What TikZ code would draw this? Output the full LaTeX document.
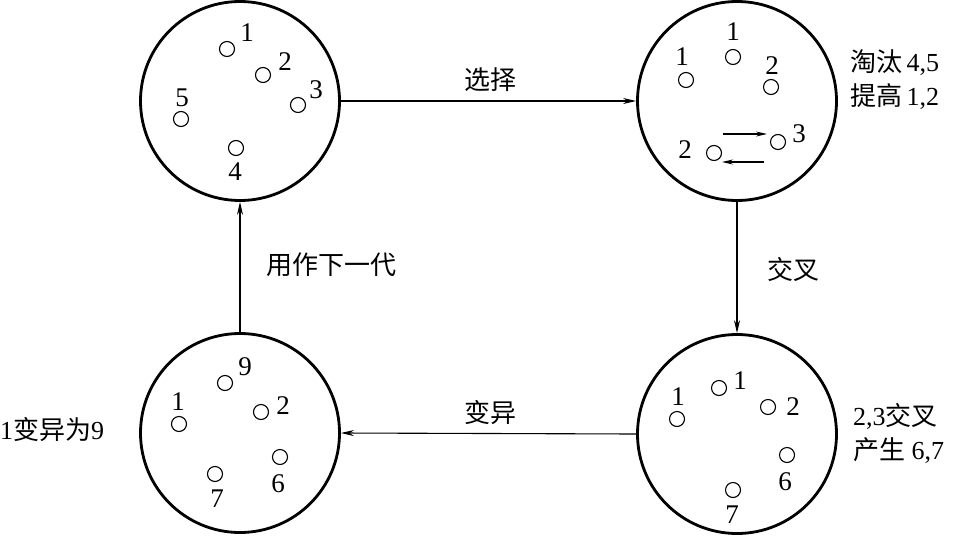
\documentclass[tikz,border=0pt]{standalone}
\usepackage{fontspec}
\setmainfont{Liberation Serif}
\newfontfamily\cjk{Noto Sans CJK SC}
\usetikzlibrary{arrows.meta}
\tikzset{
  big/.style={circle,draw,line width=2.8pt,minimum size=199pt,inner sep=0pt},
  ind/.style={circle,draw,line width=1.1pt,minimum size=15pt,inner sep=0pt},
  num/.style={font=\fontsize{27}{27}\selectfont,inner sep=0pt},
  lab/.style={font=\fontsize{26}{28}\selectfont\cjk,inner sep=0pt},
  side/.style={font=\fontsize{26}{34}\selectfont,inner sep=0pt,align=left},
  flow/.style={line width=1.1pt,-{Stealth[length=13pt,width=6pt]}},
  mini/.style={line width=1.1pt,-{Stealth[length=11pt,width=5pt]}}
}
\begin{document}
\begin{tikzpicture}[x=1pt,y=-1pt]
\useasboundingbox (0,0) rectangle (957,535);
% big circles
\node[big] (TL) at (240,101) {};
\node[big] (TR) at (737,101) {};
\node[big] (BR) at (737,434) {};
\node[big] (BL) at (240,433) {};
% flow arrows
\draw[flow] (TL.east) -- (TR.west);
\draw[flow] (TR.south) -- (BR.north);
\draw[flow] (BR.west) -- (BL.east);
\draw[flow] (BL.north) -- (TL.south);
\node[lab] (l1) at (490,80) {选择};
\node[lab] (l2) at (793,270) {交叉};
\node[lab] (l3) at (490,413) {变异};
\node[lab] (l4) at (331,265) {用作下一代};
% top-left individuals
\node[ind] (a1) at (227,49) {};  \node[num] (na1) at (247,33) {1};
\node[ind] (a2) at (263,75) {};  \node[num] (na2) at (285,62) {2};
\node[ind] (a3) at (298,105) {}; \node[num] (na3) at (316,90) {3};
\node[ind] (a5) at (181,119) {}; \node[num] (na5) at (182,98) {5};
\node[ind] (a4) at (236,148) {}; \node[num] (na4) at (235,172) {4};
% top-right individuals
\node[ind] (b1) at (733,57) {};  \node[num] (nb1) at (733,32) {1};
\node[ind] (b1b) at (686,80) {}; \node[num] (nb1b) at (682,57) {1};
\node[ind] (b2) at (771,87) {};  \node[num] (nb2) at (772,66) {2};
\node[ind] (b3) at (778,142) {}; \node[num] (nb3) at (799,134) {3};
\node[ind] (b2b) at (714,153) {};\node[num] (nb2b) at (685,150) {2};
\coordinate (r1) at (723,134); \coordinate (r2) at (767,134);
\coordinate (s1) at (764,162); \coordinate (s2) at (722,162);
\draw[mini] (r1) -- (r2);
\draw[mini] (s1) -- (s2);
\node[side,anchor=west] (tTR) at (850,80) {{\cjk 淘汰}\,4,5\\{\cjk 提高}\,1,2};
% bottom-right individuals
\node[ind] (c1) at (719,388) {};  \node[num] (nc1) at (740,381) {1};
\node[ind] (c1b) at (677,419) {}; \node[num] (nc1b) at (678,397) {1};
\node[ind] (c2) at (768,407) {};  \node[num] (nc2) at (793,407) {2};
\node[ind] (c6) at (787,455) {};  \node[num] (nc6) at (785,482) {6};
\node[ind] (c7) at (733,490) {};  \node[num] (nc7) at (732,515) {7};
\node[side,anchor=west] (tBR) at (853,433) {2,3{\cjk 交叉}\\{\cjk 产生} 6,7};
% bottom-left individuals
\node[ind] (d9) at (225,383) {};  \node[num] (nd9) at (245,367) {9};
\node[ind] (d1) at (179,424) {};  \node[num] (nd1) at (178,402) {1};
\node[ind] (d2) at (261,412) {};  \node[num] (nd2) at (283,406) {2};
\node[ind] (d6) at (280,457) {};  \node[num] (nd6) at (278,484) {6};
\node[ind] (d7) at (215,474) {};  \node[num] (nd7) at (217,499) {7};
\node[side,anchor=west] (tBL) at (0,430) {1{\cjk 变异为}9};
\end{tikzpicture}
\end{document}
